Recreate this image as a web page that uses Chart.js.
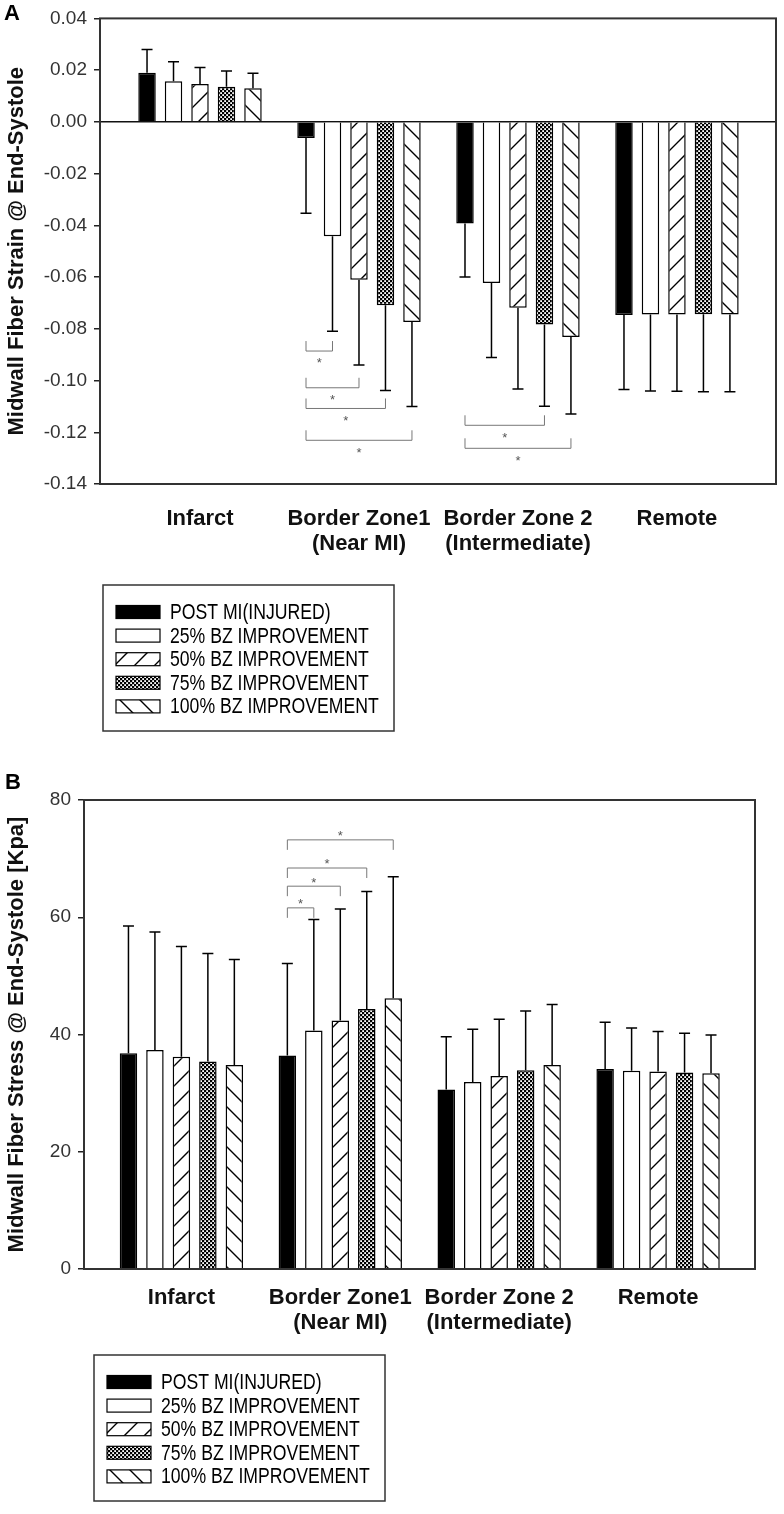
<!DOCTYPE html>
<html>
<head>
<meta charset="utf-8">
<script src="https://cdn.jsdelivr.net/npm/chart.js@4/dist/chart.umd.min.js"></script>
<style>
  html, body { margin: 0; padding: 0; background: #fff; }
  .panel { position: relative; width: 784px; }
  canvas { display: block; }
</style>
</head>
<body>
<div class="panel" style="height:740px"><canvas id="chartA" width="784" height="740"></canvas></div>
<div class="panel" style="height:774px"><canvas id="chartB" width="784" height="774"></canvas></div>
<script>
// ---------------- DATA ----------------
const categories = [['Infarct'], ['Border Zone1', '(Near MI)'], ['Border Zone 2', '(Intermediate)'], ['Remote']];
const seriesNames = ['POST MI(INJURED)', '25% BZ IMPROVEMENT', '50% BZ IMPROVEMENT', '75% BZ IMPROVEMENT', '100% BZ IMPROVEMENT'];

// Panel A: midwall fiber strain @ end-systole (mean per category)
const strainPostMI = [0.0190, -0.0062, -0.0393, -0.0747];
const strain25     = [0.0157, -0.0442, -0.0623, -0.0745];
const strain50     = [0.0146, -0.0610, -0.0719, -0.0745];
const strain75     = [0.0136, -0.0709, -0.0783, -0.0744];
const strain100    = [0.0130, -0.0774, -0.0832, -0.0745];
// Panel A: error bar magnitudes
const strainErrPostMI = [0.0090, 0.0291, 0.0207, 0.0288];
const strainErr25     = [0.0075, 0.0367, 0.0288, 0.0295];
const strainErr50     = [0.0064, 0.0330, 0.0314, 0.0296];
const strainErr75     = [0.0061, 0.0330, 0.0316, 0.0299];
const strainErr100    = [0.0058, 0.0326, 0.0297, 0.0298];
const strainTicks = [-0.14, -0.12, -0.10, -0.08, -0.06, -0.04, -0.02, 0.00, 0.02, 0.04];
// significance brackets: [category, series a, series b, bracket level]
const strainSig = [[1, 0, 1, -0.0886], [1, 0, 2, -0.1028], [1, 0, 3, -0.1108], [1, 0, 4, -0.1231],
                   [2, 0, 3, -0.1173], [2, 0, 4, -0.1262]];

// Panel B: midwall fiber stress @ end-systole [kPa]
const stressPostMI = [36.8, 36.4, 30.6, 34.1];
const stress25     = [37.35, 40.7, 31.9, 33.8];
const stress50     = [36.2, 42.4, 32.9, 33.7];
const stress75     = [35.4, 44.35, 33.9, 33.5];
const stress100    = [34.8, 46.2, 34.8, 33.4];
const stressErrPostMI = [21.7, 15.7, 9.0, 8.0];
const stressErr25     = [20.15, 18.9, 9.0, 7.3];
const stressErr50     = [18.8, 19.0, 9.7, 6.8];
const stressErr75     = [18.4, 20.05, 10.1, 6.7];
const stressErr100    = [18.0, 20.7, 10.3, 6.5];
const stressTicks = [0, 20, 40, 60, 80];
const stressSig = [[1, 0, 1, 61.6], [1, 0, 2, 65.3], [1, 0, 3, 68.4], [1, 0, 4, 73.2]];

// ---------------- STYLE ----------------
const FONT = 'Liberation Sans, Arial, sans-serif';
Chart.defaults.font.family = FONT;

function makePattern(kind) {
  const c = document.createElement('canvas');
  const g = c.getContext('2d');
  if (kind === 'cross') {
    const s = 4;
    c.width = s; c.height = s;
    g.fillStyle = '#000'; g.fillRect(0, 0, s, s);
    g.fillStyle = '#fff';
    g.fillRect(0.2, 0.2, 1.8, 1.8);
    g.fillRect(2.2, 2.2, 1.8, 1.8);
  } else {
    const s = 20;
    c.width = s; c.height = s;
    g.fillStyle = '#fff'; g.fillRect(0, 0, s, s);
    g.strokeStyle = '#000'; g.lineWidth = 1.4;
    g.beginPath();
    if (kind === 'fwd') {
      g.moveTo(-2, s + 2); g.lineTo(s + 2, -2);
      g.moveTo(-2, 2); g.lineTo(2, -2);
      g.moveTo(s - 2, s + 2); g.lineTo(s + 2, s - 2);
    } else {
      g.moveTo(-2, -2); g.lineTo(s + 2, s + 2);
      g.moveTo(s - 2, -2); g.lineTo(s + 2, 2);
      g.moveTo(-2, s - 2); g.lineTo(2, s + 2);
    }
    g.stroke();
  }
  return document.createElement('canvas').getContext('2d').createPattern(c, 'repeat');
}
const fills = ['#000000', '#ffffff', makePattern('fwd'), makePattern('cross'), makePattern('back')];

const narrowOK = (() => {
  const g = document.createElement('canvas').getContext('2d');
  const t = '100% BZ IMPROVEMENT';
  g.font = '20px monospace';
  const a = g.measureText(t).width;
  g.font = '20px "Liberation Sans Narrow", monospace';
  return Math.abs(g.measureText(t).width - a) > 0.5;
})();

// ---------------- PLUGIN: error bars, frame, brackets, boxed legend, panel letter ----------------
const extrasPlugin = {
  id: 'extras',
  afterDatasetsDraw(chart, args, o) {
    const { ctx, chartArea: a } = chart;
    const y = chart.scales.y;
    ctx.save();
    // error bars (one-sided, away from zero)
    ctx.strokeStyle = '#000';
    ctx.lineWidth = 1.5;
    o.errors.forEach((errs, di) => {
      const meta = chart.getDatasetMeta(di);
      meta.data.forEach((bar, j) => {
        const v = chart.data.datasets[di].data[j].y;
        const ye = y.getPixelForValue(v + Math.sign(v) * errs[j]);
        ctx.beginPath();
        ctx.moveTo(bar.x, bar.y); ctx.lineTo(bar.x, ye);
        ctx.moveTo(bar.x - o.capHalf, ye); ctx.lineTo(bar.x + o.capHalf, ye);
        ctx.stroke();
      });
    });
    // plot frame
    ctx.strokeStyle = '#333';
    ctx.lineWidth = 2;
    ctx.strokeRect(a.left, a.top, a.right - a.left, a.bottom - a.top);
    // significance brackets
    const fs = 13;
    ctx.strokeStyle = '#777';
    ctx.lineWidth = 1;
    ctx.fillStyle = '#555';
    ctx.font = fs + 'px ' + FONT;
    ctx.textAlign = 'center';
    ctx.textBaseline = 'alphabetic';
    o.brackets.forEach(([cat, s1, s2, level]) => {
      const x1 = chart.getDatasetMeta(s1).data[cat].x;
      const x2 = chart.getDatasetMeta(s2).data[cat].x;
      const yl = y.getPixelForValue(level);
      const yt = yl + o.tipDir * o.tip;
      ctx.beginPath();
      ctx.moveTo(x1, yt); ctx.lineTo(x1, yl); ctx.lineTo(x2, yl); ctx.lineTo(x2, yt);
      ctx.stroke();
      ctx.fillText('*', (x1 + x2) / 2, yl + o.starDy + 0.57 * fs);
    });
    ctx.restore();
  },
  afterDraw(chart, args, o) {
    const { ctx } = chart;
    ctx.save();
    // boxed legend built from the chart's own legend items
    const items = Chart.defaults.plugins.legend.labels.generateLabels(chart);
    const L = o.legend;
    ctx.strokeStyle = '#333';
    ctx.lineWidth = 1.5;
    ctx.strokeRect(L.x, L.y, L.w, L.h);
    items.forEach((it, i) => {
      const cy = L.y + L.firstRow + i * L.rowGap;
      ctx.fillStyle = it.fillStyle;
      ctx.fillRect(L.x + L.swX, cy - L.swH / 2, L.swW, L.swH);
      ctx.strokeStyle = '#000';
      ctx.lineWidth = 1.2;
      ctx.strokeRect(L.x + L.swX, cy - L.swH / 2, L.swW, L.swH);
      ctx.fillStyle = '#000';
      ctx.textAlign = 'left';
      ctx.textBaseline = 'middle';
      ctx.save();
      ctx.translate(L.x + L.textX, cy + 1);
      if (narrowOK) {
        ctx.font = '21.5px "Liberation Sans Narrow"';
      } else {
        ctx.font = '21.5px ' + FONT;
        ctx.scale(0.82, 1);
      }
      ctx.fillText(it.text, 0, 0);
      ctx.restore();
    });
    // panel letter
    ctx.fillStyle = '#000';
    ctx.font = 'bold 22px ' + FONT;
    ctx.textAlign = 'left';
    ctx.textBaseline = 'middle';
    ctx.fillText(o.letter.text, o.letter.x, o.letter.y);
    ctx.restore();
  }
};

// ---------------- CHART FACTORY ----------------
function makeChart(id, cfg) {
  const datasets = cfg.series.map((vals, i) => ({
    label: seriesNames[i],
    data: vals.map((v, j) => ({ x: j, y: v })),
    backgroundColor: fills[i],
    borderColor: '#000',
    borderWidth: 1.5,
    categoryPercentage: 0.833,
    barPercentage: 0.66
  }));
  return new Chart(document.getElementById(id), {
    type: 'bar',
    data: { datasets },
    plugins: [extrasPlugin],
    options: {
      responsive: false,
      animation: false,
      events: [],
      layout: { padding: cfg.padding },
      scales: {
        x: {
          type: 'linear',
          min: cfg.xMin,
          max: cfg.xMax,
          offset: false,
          afterBuildTicks: s => { s.ticks = categories.map((c, i) => ({ value: i })); },
          afterFit: s => { s.height = cfg.xAxisHeight; },
          grid: { display: false, drawTicks: false },
          border: { display: false },
          ticks: {
            autoSkip: false, maxRotation: 0, minRotation: 0,
            padding: cfg.xPad,
            color: '#111',
            font: { family: FONT, size: 22, weight: 'bold', lineHeight: 1.15 },
            callback: v => categories[v]
          }
        },
        y: {
          min: cfg.yMin,
          max: cfg.yMax,
          afterBuildTicks: s => { s.ticks = cfg.yTicks.map(v => ({ value: v })); },
          afterFit: s => { s.width = cfg.yAxisWidth; },
          border: { display: false },
          grid: {
            drawTicks: true,
            tickLength: 6,
            tickColor: '#222',
            tickWidth: 1.5,
            lineWidth: 1.5,
            drawOnChartArea: cfg.zeroLine,
            color: c => (c.tick && Math.abs(c.tick.value) < 1e-9) ? '#111' : 'rgba(0,0,0,0)'
          },
          ticks: {
            padding: 7,
            color: '#333',
            font: { family: FONT, size: 19 },
            callback: v => (Math.abs(v) < 1e-9 ? 0 : v).toFixed(cfg.decimals)
          },
          title: {
            display: true,
            text: cfg.yTitle,
            color: '#111',
            font: { family: FONT, size: 22, weight: 'bold' },
            padding: { top: 4, bottom: 0 }
          }
        }
      },
      plugins: {
        legend: { display: false },
        tooltip: { enabled: false },
        extras: {
          errors: cfg.errors,
          capHalf: 5.5,
          brackets: cfg.sig,
          tip: 10,
          tipDir: cfg.tipDir,
          starDy: cfg.starDy,
          legend: { x: cfg.legendX, y: cfg.legendY, w: 291, h: 146, firstRow: 27, rowGap: 23.6, swX: 13, swW: 44, swH: 13, textX: 67 },
          letter: cfg.letter
        }
      }
    }
  });
}

makeChart('chartA', {
  series: [strainPostMI, strain25, strain50, strain75, strain100],
  errors: [strainErrPostMI, strainErr25, strainErr50, strainErr75, strainErr100],
  sig: strainSig,
  yMin: -0.14, yMax: 0.04, yTicks: strainTicks, decimals: 2,
  yTitle: 'Midwall Fiber Strain @ End-Systole',
  zeroLine: true,
  xMin: -0.629, xMax: 3.623,
  padding: { top: 15, right: 8, bottom: 0, left: 0 },
  yAxisWidth: 100, xAxisHeight: 256, xPad: 22,
  tipDir: -1, starDy: 9,
  legendX: 103, legendY: 585,
  letter: { text: 'A', x: 4, y: 14 }
});

makeChart('chartB', {
  series: [stressPostMI, stress25, stress50, stress75, stress100],
  errors: [stressErrPostMI, stressErr25, stressErr50, stressErr75, stressErr100],
  sig: stressSig,
  yMin: 0, yMax: 80, yTicks: stressTicks, decimals: 0,
  yTitle: 'Midwall Fiber Stress @ End-Systole [Kpa]',
  zeroLine: false,
  xMin: -0.613, xMax: 3.610,
  padding: { top: 60, right: 29, bottom: 0, left: 0 },
  yAxisWidth: 84, xAxisHeight: 245, xPad: 16,
  tipDir: 1, starDy: -7,
  legendX: 94, legendY: 615,
  letter: { text: 'B', x: 5, y: 43 }
});
</script>
</body>
</html>
